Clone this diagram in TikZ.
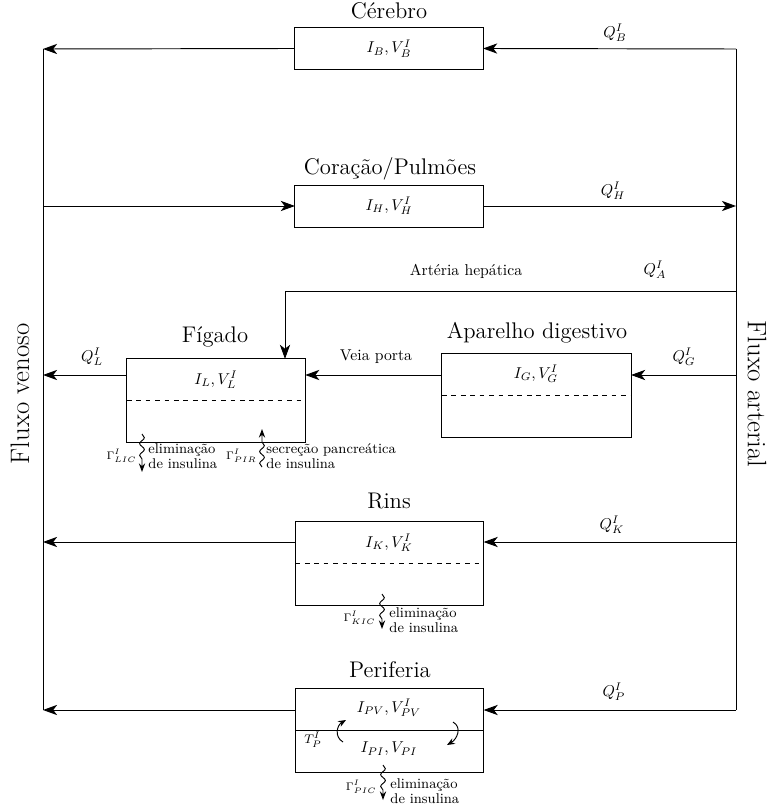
\documentclass[tikz,border=0pt]{standalone}
\usepackage{amsmath}
\usepackage{tikz}
\usetikzlibrary{arrows.meta, decorations.pathmorphing, positioning, calc}
\tikzstyle{compart}=[rectangle, draw, inner sep=0pt, outer sep=0pt, fill=white]
\tikzstyle{organ}=[font=\fontsize{14.4}{16}\selectfont, anchor=base, inner sep=0pt]
\tikzstyle{side}=[font=\fontsize{17}{19}\selectfont, inner sep=0pt]
\tikzstyle{flow}=[-{Stealth[length=9pt,width=6.5pt,inset=2.5pt]}]
\tikzstyle{turn}=[-{Stealth[length=5pt,width=4pt]}, line width=0.6pt]
\tikzstyle{wavy}=[-{Stealth[length=5.5pt,width=4pt]}, line width=0.6pt, decorate, decoration={snake, amplitude=1.5pt, segment length=7.5pt, post length=5pt}]
\tikzstyle{note}=[font=\fontsize{9}{9.8}\selectfont, align=left, anchor=west, inner sep=0pt]
\tikzstyle{rate}=[font=\fontsize{7.5}{8.5}\selectfont, anchor=east, inner sep=0pt]

\begin{document}
\begin{tikzpicture}[x=0.02237cm, y=-0.02237cm, line width=0.6pt]
\useasboundingbox (0,0) rectangle (767,807);

\coordinate (vtop) at (43,49); \coordinate (vbot) at (43,710);
\coordinate (atop) at (736,49); \coordinate (abot) at (736,710);
\coordinate (hep) at (285,291);
\coordinate (yL) at (0,375); \coordinate (yK) at (0,542); \coordinate (yP) at (0,710);

\node[compart, minimum width=4.21cm, minimum height=0.92cm] (cer) at (389,48.5) {$I_B, V_B^I$};
\node[compart, minimum width=4.21cm, minimum height=0.94cm] (cor) at (389,206) {$I_H, V_H^I$};
\node[compart, minimum width=3.99cm, minimum height=1.86cm] (fig) at (216,400.5) {};
\node[compart, minimum width=4.23cm, minimum height=1.88cm] (apd) at (536.5,395) {};
\node[compart, minimum width=4.21cm, minimum height=1.86cm] (rin) at (389.5,563.5) {};
\node[compart, minimum width=4.21cm, minimum height=1.86cm] (per) at (389.5,730.5) {};
\draw[dashed] (fig.west) -- (fig.east);
\draw[dashed] (apd.west) -- (apd.east);
\draw[dashed] (rin.west) -- (rin.east);
\draw (per.west) -- (per.east);

\node (figl) at (216,380) {$I_L, V_L^I$};
\node (apdl) at (536,374) {$I_G, V_G^I$};
\node (rinl) at (389,543) {$I_K, V_K^I$};
\node (perv) at (389,708) {$I_{PV}, V_{PV}^I$};
\node (peri) at (389,749) {$I_{PI}, V_{PI}$};

\node[organ] (cert) at (389,19) {Cérebro};
\node[organ] (cort) at (390,175) {Coração/Pulmões};
\node[organ] (figt) at (215,342) {Fígado};
\node[organ] (apdt) at (537,338) {Aparelho digestivo};
\node[organ] (rint) at (389,508) {Rins};
\node[organ] (pert) at (390,677) {Periferia};
\node[side, rotate=90] (ven) at (20,394) {Fluxo venoso};
\node[side, rotate=-90] (art) at (757,394) {Fluxo arterial};

\draw (vtop) -- (vbot);
\draw (atop) -- (abot);
\draw[flow] (atop) -- (cer.east);
\draw[flow] (cer.west) -- (vtop);
\draw[flow] (cor.west -| vtop) -- (cor.west);
\draw[flow] (cor.east) -- (cor.east -| atop);
\draw[flow] (hep -| atop) -- (hep) -- (hep |- fig.north);
\draw[flow] (yL -| atop) -- (yL -| apd.east);
\draw[flow] (yL -| apd.west) -- (yL -| fig.east);
\draw[flow] (yL -| fig.west) -- (yL -| vtop);
\draw[flow] (yK -| atop) -- (yK -| rin.east);
\draw[flow] (yK -| rin.west) -- (yK -| vtop);
\draw[flow] (yP -| atop) -- (yP -| per.east);
\draw[flow] (yP -| per.west) -- (vbot);

\node (qb) at (615,33) {$Q_B^I$};
\node (qh) at (613,191) {$Q_H^I$};
\node (qa) at (655,270) {$Q_A^I$};
\node (qg) at (684,357) {$Q_G^I$};
\node (ql) at (92,357) {$Q_L^I$};
\node (qk) at (612,525) {$Q_K^I$};
\node (qp) at (614,692) {$Q_P^I$};
\node (arth) at (466,271) {Artéria hepática};
\node (veip) at (376,357) {Veia porta};

\coordinate (lic1) at (142,434); \coordinate (lic2) at (142,472);
\coordinate (pir1) at (262,467); \coordinate (pir2) at (262,429);
\coordinate (kic1) at (382,594); \coordinate (kic2) at (382,629);
\coordinate (pic1) at (383,765); \coordinate (pic2) at (383,800);
\draw[wavy] (lic1) -- (lic2);
\draw[wavy] (pir1) -- (pir2);
\draw[wavy] (kic1) -- (kic2);
\draw[wavy] (pic1) -- (pic2);
\node[rate] (glic) at (137,456) {$\Gamma^I_{LIC}$};
\node[note] (elic) at (148,456) {eliminação\\de insulina};
\node[rate] (gpir) at (257,456) {$\Gamma^I_{PIR}$};
\node[note] (spir) at (266,456) {secreção pancreática\\de insulina};
\node[rate] (gkic) at (376,618) {$\Gamma^I_{KIC}$};
\node[note] (ekic) at (389,620) {eliminação\\de insulina};
\node[rate] (gpic) at (377,787) {$\Gamma^I_{PIC}$};
\node[note] (epic) at (390,791) {eliminação\\de insulina};

\coordinate (tp1) at (343,742); \coordinate (tp2) at (346,720);
\coordinate (tp3) at (453,722); \coordinate (tp4) at (447,745);
\draw[turn] (tp1) to[out=150, in=-150, looseness=1.2] (tp2);
\draw[turn] (tp3) to[out=-30, in=30, looseness=1.2] (tp4);
\node[font=\fontsize{8.5}{9}\selectfont] (tpl) at (313,740) {$T_P^I$};
\end{tikzpicture}
\end{document}
